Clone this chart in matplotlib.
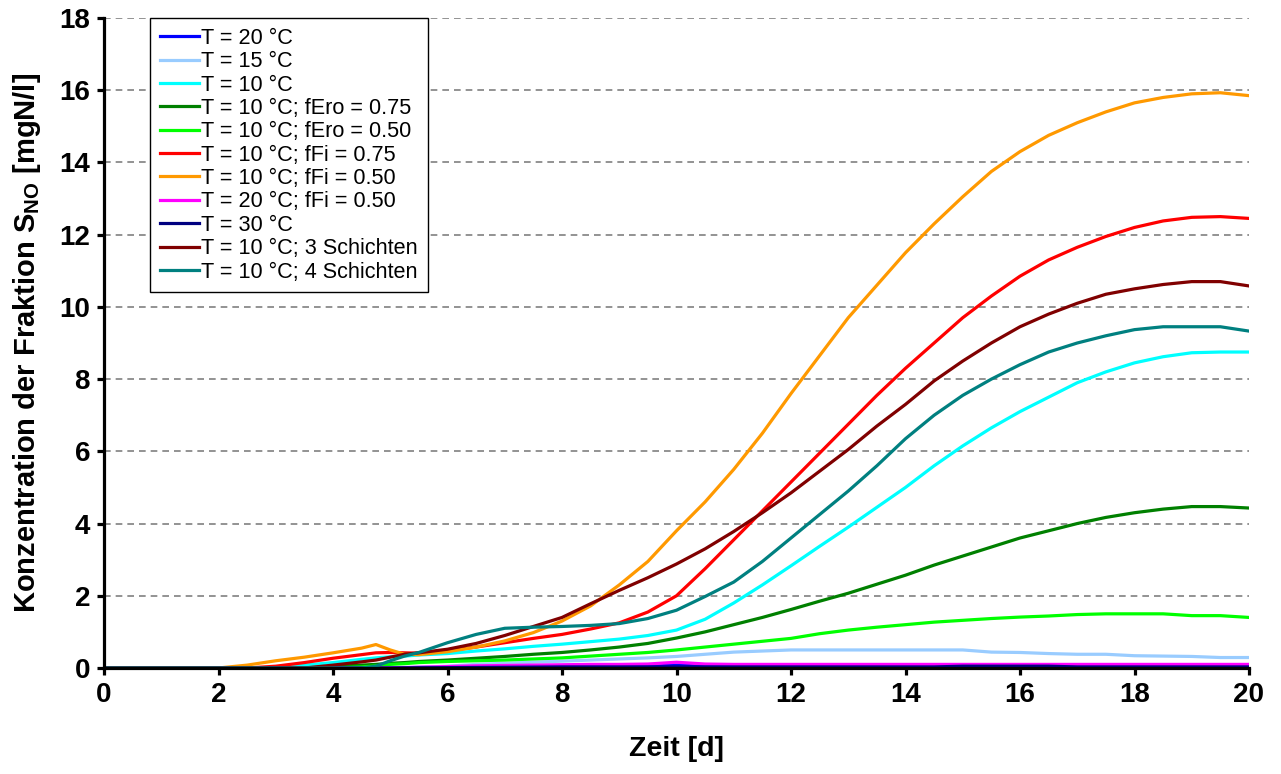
import matplotlib
matplotlib.use("Agg")
import matplotlib.pyplot as plt

plt.rcParams["font.family"] = ["Liberation Sans", "DejaVu Sans"]
plt.rcParams["mathtext.fontset"] = "custom"
plt.rcParams["mathtext.rm"] = "Liberation Sans"
plt.rcParams["mathtext.bf"] = "Liberation Sans:bold"

# Simulation time [d]
days = [0, 0.5, 1, 1.5, 2, 2.5, 3, 3.5, 4, 4.5, 4.75, 5, 5.25, 5.5,
        6, 6.5, 7, 7.5, 8, 8.5, 9, 9.5, 10, 10.5, 11, 11.5, 12, 12.5,
        13, 13.5, 14, 14.5, 15, 15.5, 16, 16.5, 17, 17.5, 18, 18.5, 19, 19.5, 20]

# S_NO concentration [mgN/l] for each scenario
t20 = [0, 0, 0, 0, 0, 0, 0, 0, 0, 0.005, 0.008, 0.01, 0.012, 0.015,
       0.02, 0.025, 0.03, 0.035, 0.04, 0.045, 0.05, 0.05, 0.08, 0.05, 0.05, 0.05, 0.05, 0.05,
       0.05, 0.05, 0.05, 0.05, 0.05, 0.05, 0.05, 0.05, 0.05, 0.05, 0.05, 0.05, 0.05, 0.05, 0.05]
t15 = [0, 0, 0, 0, 0, 0, 0, 0, 0, 0, 0, 0, 0, 0.02,
       0.05, 0.1, 0.13, 0.16, 0.19, 0.22, 0.25, 0.28, 0.32, 0.38, 0.44, 0.47, 0.5, 0.5,
       0.5, 0.5, 0.5, 0.5, 0.5, 0.44, 0.43, 0.4, 0.38, 0.38, 0.34, 0.33, 0.32, 0.29, 0.29]
t10 = [0, 0, 0, 0, 0, 0, 0, 0.08, 0.15, 0.24, 0.28, 0.31, 0.33, 0.36,
       0.4, 0.47, 0.53, 0.6, 0.66, 0.73, 0.8, 0.9, 1.05, 1.35, 1.8, 2.3, 2.83, 3.37,
       3.9, 4.45, 5.0, 5.6, 6.15, 6.65, 7.1, 7.5, 7.9, 8.2, 8.45, 8.62, 8.73, 8.75, 8.75]
t10_ero075 = [0, 0, 0, 0, 0, 0, 0, 0, 0.04, 0.08, 0.1, 0.13, 0.15, 0.18,
              0.22, 0.27, 0.32, 0.38, 0.43, 0.5, 0.58, 0.68, 0.83, 1.0, 1.2, 1.4, 1.62, 1.85,
              2.07, 2.32, 2.57, 2.85, 3.1, 3.35, 3.6, 3.8, 4.0, 4.17, 4.3, 4.4, 4.47, 4.47, 4.43]
t10_ero050 = [0, 0, 0, 0, 0, 0, 0, 0, 0, 0.03, 0.06, 0.1, 0.12, 0.15,
              0.18, 0.2, 0.22, 0.25, 0.28, 0.33, 0.38, 0.43, 0.5, 0.58, 0.66, 0.74, 0.82, 0.95,
              1.05, 1.13, 1.2, 1.27, 1.32, 1.37, 1.41, 1.44, 1.48, 1.5, 1.5, 1.5, 1.45, 1.45, 1.4]
t10_fi075 = [0, 0, 0, 0, 0, 0, 0.05, 0.15, 0.27, 0.37, 0.42, 0.43, 0.42, 0.41,
             0.48, 0.58, 0.7, 0.82, 0.93, 1.08, 1.25, 1.55, 2.0, 2.75, 3.55, 4.35, 5.15, 5.95,
             6.75, 7.55, 8.3, 9.0, 9.7, 10.3, 10.85, 11.3, 11.65, 11.95, 12.2, 12.38, 12.48, 12.5, 12.45]
t10_fi050 = [0, 0, 0, 0, 0, 0.08, 0.2, 0.3, 0.42, 0.55, 0.65, 0.5, 0.38, 0.37,
             0.45, 0.58, 0.75, 0.98, 1.3, 1.72, 2.3, 2.95, 3.8, 4.6, 5.5, 6.5, 7.6, 8.65,
             9.7, 10.6, 11.5, 12.3, 13.05, 13.75, 14.3, 14.75, 15.1, 15.4, 15.65, 15.8, 15.9, 15.93, 15.85]
t20_fi050 = [0, 0, 0, 0, 0, 0, 0, 0, 0, 0, 0, 0, 0.01, 0.02,
             0.04, 0.06, 0.07, 0.08, 0.09, 0.1, 0.1, 0.11, 0.16, 0.11, 0.1, 0.1, 0.1, 0.1,
             0.1, 0.1, 0.1, 0.1, 0.1, 0.1, 0.1, 0.1, 0.1, 0.1, 0.1, 0.1, 0.1, 0.1, 0.1]
t30 = [0, 0, 0, 0, 0, 0, 0, 0, 0, 0, 0, 0, 0.005, 0.008,
       0.01, 0.015, 0.02, 0.025, 0.03, 0.03, 0.03, 0.03, 0.03, 0.03, 0.03, 0.03, 0.03, 0.03,
       0.03, 0.03, 0.03, 0.03, 0.05, 0.05, 0.05, 0.05, 0.03, 0.03, 0.03, 0.03, 0.03, 0.03, 0.03]
t10_3layers = [0, 0, 0, 0, 0, 0, 0, 0, 0.08, 0.17, 0.22, 0.3, 0.38, 0.42,
               0.52, 0.68, 0.9, 1.15, 1.4, 1.78, 2.15, 2.5, 2.88, 3.3, 3.78, 4.3, 4.85, 5.45,
               6.05, 6.7, 7.3, 7.95, 8.5, 9.0, 9.45, 9.8, 10.1, 10.35, 10.5, 10.62, 10.7, 10.7, 10.58]
t10_4layers = [0, 0, 0, 0, 0, 0, 0, 0, 0, 0, 0.05, 0.2, 0.33, 0.43,
               0.7, 0.93, 1.1, 1.13, 1.15, 1.18, 1.23, 1.37, 1.6, 1.98, 2.38, 2.95, 3.6, 4.25,
               4.9, 5.6, 6.35, 7.0, 7.55, 8.0, 8.4, 8.75, 9.0, 9.2, 9.37, 9.45, 9.45, 9.45, 9.33]

labels = ["T = 20 °C", "T = 15 °C", "T = 10 °C",
          "T = 10 °C; fEro = 0.75", "T = 10 °C; fEro = 0.50",
          "T = 10 °C; fFi = 0.75", "T = 10 °C; fFi = 0.50",
          "T = 20 °C; fFi = 0.50", "T = 30 °C",
          "T = 10 °C; 3 Schichten", "T = 10 °C; 4 Schichten"]
colors = ["#0000ff", "#99ccff", "#00ffff", "#008000", "#00ff00",
          "#ff0000", "#ff9900", "#ff00ff", "#000080", "#800000", "#008080"]
series = [t20, t15, t10, t10_ero075, t10_ero050, t10_fi075, t10_fi050,
          t20_fi050, t30, t10_3layers, t10_4layers]

fig = plt.figure(figsize=(12.81, 7.74), dpi=100)
ax = fig.add_axes([104 / 1281, 1 - 668 / 774, 1145 / 1281, 650 / 774])

for vals, col, lab in zip(series, colors, labels):
    ax.plot(days, vals, color=col, lw=2.3, label=lab, solid_joinstyle="round")

ax.set_xlim(0, 20)
ax.set_ylim(0, 18)
ax.set_xticks(range(0, 21, 2))
ax.set_yticks(range(0, 19, 2))

ax.set_axisbelow(True)
ax.yaxis.grid(True, color="#808080", lw=1.2, linestyle=(0, (4, 3)))
ax.xaxis.grid(False)

for side in ("top", "right"):
    ax.spines[side].set_visible(False)
for side in ("left", "bottom"):
    ax.spines[side].set_linewidth(2.3)
    ax.spines[side].set_color("black")

ax.tick_params(axis="both", direction="out", length=5, width=2.3,
               labelsize=20, pad=5)
for lbl in ax.get_xticklabels() + ax.get_yticklabels():
    lbl.set_fontweight("bold")

ax.set_xlabel("Zeit [d]", fontsize=20.5, fontweight="bold", labelpad=20)
ax.set_ylabel(r"Konzentration der Fraktion S$_{\mathregular{NO}}$ [mgN/l]",
              fontsize=21, fontweight="bold", labelpad=12)

leg = ax.legend(loc="upper left", bbox_to_anchor=(0.040, 1.0), borderaxespad=0,
                fontsize=15.6, frameon=True, fancybox=False, framealpha=1,
                edgecolor="black", handlelength=1.8, handletextpad=0.12,
                labelspacing=0.11, borderpad=0.45)
leg.get_frame().set_linewidth(1.0)

fig.savefig("out.png", dpi=100)
